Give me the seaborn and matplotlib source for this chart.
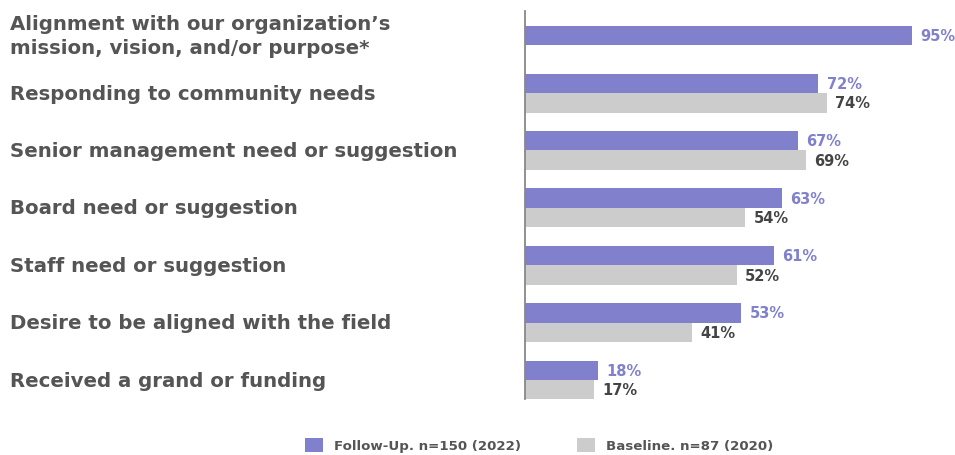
import numpy as np
import pandas as pd
import matplotlib
matplotlib.use("Agg")
import matplotlib.pyplot as plt
import seaborn as sns

# data
categories = [
    "Alignment with our organization\u2019s\nmission, vision, and/or purpose*",
    "Responding to community needs",
    "Senior management need or suggestion",
    "Board need or suggestion",
    "Staff need or suggestion",
    "Desire to be aligned with the field",
    "Received a grand or funding",
]
follow_up = [95, 72, 67, 63, 61, 53, 18]
baseline = [np.nan, 74, 69, 54, 52, 41, 17]
series_names = ["Follow-Up. n=150 (2022)", "Baseline. n=87 (2020)"]

purple = "#8080CC"
grey = "#CCCCCC"
text_grey = "#555555"

df = pd.DataFrame({
    "reason": categories * 2,
    "pct": follow_up + baseline,
    "group": [series_names[0]] * len(categories) + [series_names[1]] * len(categories),
}).dropna()

sns.set_theme(style="white")
plt.rcParams["font.family"] = ["DejaVu Sans"]

fig = plt.figure(figsize=(9.55, 4.56), dpi=100)
ax = fig.add_axes([525 / 955, 1 - 400 / 456, (953 - 525) / 955, (400 - 12) / 456])

sns.barplot(data=df, x="pct", y="reason", hue="group", hue_order=series_names,
            order=categories, palette=[purple, grey], width=0.68, ax=ax,
            orient="h", saturation=1, linewidth=0)

# a category with no baseline value gets its single bar centred on the row
for i, v in enumerate(baseline):
    if np.isnan(v):
        bar = ax.containers[0][i]
        bar.set_y(i - bar.get_height() / 2)

ax.set_xlim(0, 105)
ax.set_ylim(6.33, -0.43)
ax.set_xlabel("")
ax.set_ylabel("")
ax.set_xticks([])
ax.set_yticks([])
sns.despine(ax=ax, left=False, bottom=True, right=True, top=True)
ax.spines["left"].set_color("#888888")
ax.spines["left"].set_linewidth(1.3)

# value labels
for cont, name, col in zip(ax.containers, series_names, [purple, "#444444"]):
    vals = df.loc[df["group"] == name, "pct"]
    labs = [f"{v:.0f}%" for v in vals]
    ax.bar_label(cont, labels=labs, padding=6, color=col, fontsize=10.5,
                 fontweight="bold")

# category labels, left aligned at the figure edge
trans = matplotlib.transforms.blended_transform_factory(fig.transFigure, ax.transData)
for i, cat in enumerate(categories):
    ax.text(10 / 955, i, cat, transform=trans, ha="left", va="center",
            fontsize=14.2, fontweight="bold", color=text_grey, linespacing=1.35)

handles, labels = ax.get_legend_handles_labels()
ax.get_legend().remove()
fig.legend(handles, labels, loc="center", bbox_to_anchor=(539 / 955, 1 - 446 / 456),
           ncol=2, frameon=False, handlelength=1.35, handleheight=1.35,
           columnspacing=4.2, handletextpad=0.8,
           prop={"weight": "bold", "size": 9.6}, labelcolor=text_grey)

fig.savefig("out.png", dpi=100)
